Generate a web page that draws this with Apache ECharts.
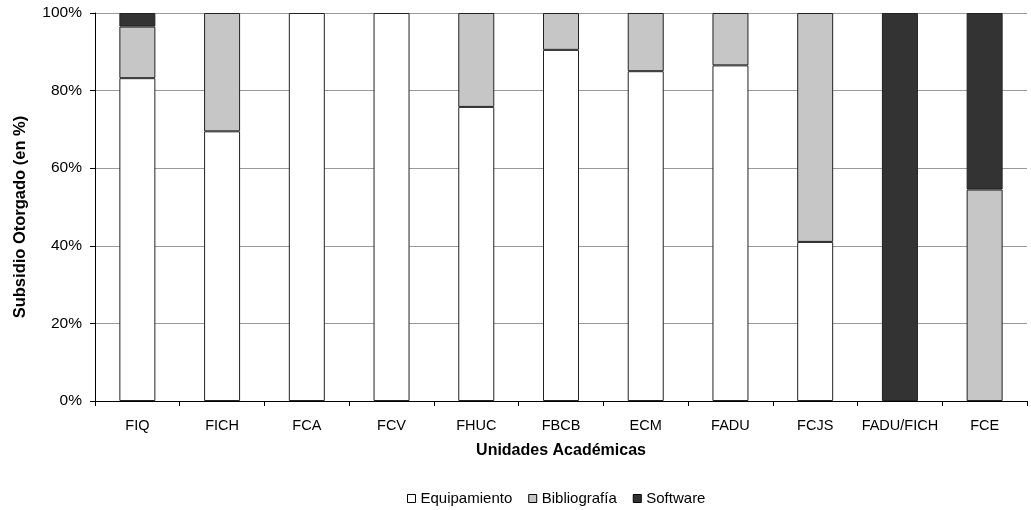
<!DOCTYPE html>
<html><head><meta charset="utf-8">
<script src="https://cdn.jsdelivr.net/npm/echarts@6/dist/echarts.min.js"></script>
<style>html,body{margin:0;padding:0;background:#fff}#c{width:1031px;height:510px}</style>
</head><body><div id="c"></div>
<script>
const categories = ['FIQ','FICH','FCA','FCV','FHUC','FBCB','ECM','FADU','FCJS','FADU/FICH','FCE'];
const equipamiento = [83.2, 69.5, 100, 100, 75.8, 90.5, 85.0, 86.5, 41.0, 0, 0];
const bibliografia = [13.3, 30.5, 0, 0, 24.2, 9.5, 15.0, 13.5, 59.0, 0, 54.5];
const software = [3.5, 0, 0, 0, 0, 0, 0, 0, 0, 100, 45.5];
const seriesNames = ['Equipamiento','Bibliografía','Software'];
const yTicks = [0, 20, 40, 60, 80, 100];

const font = 'Liberation Sans, Arial, sans-serif';
const colors = ['#ffffff', '#c6c6c6', '#333333'];
const chart = echarts.init(document.getElementById('c'), null, {renderer: 'canvas'});
const mk = (name, data, i) => ({
  name, type: 'bar', stack: 't', data: data.map(v => v === 0 ? '-' : v), barWidth: 36,
  itemStyle: {color: colors[i], borderColor: '#222', borderWidth: 1},
  emphasis: {disabled: true}
});
chart.setOption({
  animation: false,
  grid: {left: 95, right: 4, top: 13, bottom: 109, containLabel: false},
  legend: {
    top: 486, left: 402, itemWidth: 8, itemHeight: 8, itemGap: 16,
    icon: 'rect',
    textStyle: {fontFamily: font, fontSize: 15, color: '#000'},
    data: seriesNames.map((n, i) => ({name: n, itemStyle: {color: colors[i], borderColor: '#000', borderWidth: 1}}))
  },
  xAxis: {
    type: 'category', data: categories,
    name: 'Unidades Académicas', nameLocation: 'middle', nameGap: 42,
    nameTextStyle: {fontFamily: font, fontSize: 16, fontWeight: 'bold', color: '#000'},
    axisLine: {lineStyle: {color: '#000', width: 1}},
    axisTick: {show: true, length: 5, lineStyle: {color: '#000'}, alignWithLabel: false},
    axisLabel: {fontFamily: font, fontSize: 14.5, color: '#000', margin: 17, interval: 0}
  },
  yAxis: {
    type: 'value', min: 0, max: 100, interval: 20,
    name: 'Subsidio Otorgado (en %)', nameLocation: 'middle', nameGap: 66,
    nameTextStyle: {fontFamily: font, fontSize: 16.5, fontWeight: 'bold', color: '#000', padding: [0, 20, 0, 0]},
    axisLine: {show: true, lineStyle: {color: '#000', width: 1}},
    axisTick: {show: true, length: 5, lineStyle: {color: '#000'}},
    axisLabel: {fontFamily: font, fontSize: 15.5, color: '#000', margin: 13,
      formatter: v => yTicks.includes(v) ? v + '%' : ''},
    splitLine: {show: true, lineStyle: {color: '#9a9a9a', width: 1}}
  },
  series: [mk(seriesNames[0], equipamiento, 0), mk(seriesNames[1], bibliografia, 1), mk(seriesNames[2], software, 2)]
});
</script></body></html>
